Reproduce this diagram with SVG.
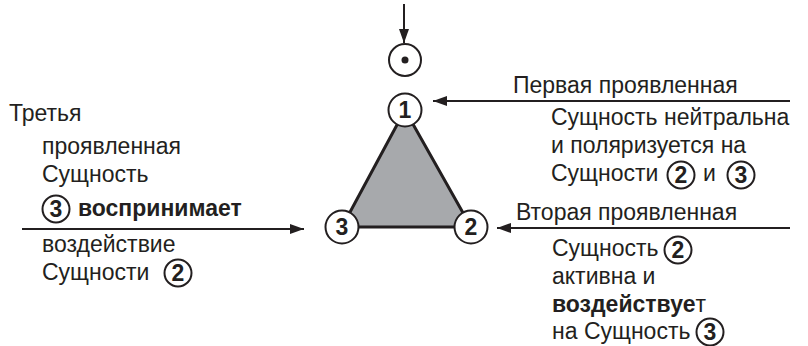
<svg xmlns="http://www.w3.org/2000/svg" width="808" height="346" viewBox="0 0 808 346">
<style>
.t{font-family:"Liberation Sans",Arial,sans-serif;font-size:23px;fill:#231f20}
.b{font-weight:bold}
.n{font-family:"Liberation Sans",Arial,sans-serif;font-weight:bold;font-size:23px;fill:#231f20;text-anchor:middle}
.c{fill:#fff;stroke:#231f20;stroke-width:2}
.ln{stroke:#231f20;stroke-width:2;fill:none}
</style>
<defs>
<marker id="ah" viewBox="0 0 14 10" refX="14" refY="5" markerWidth="14" markerHeight="10" markerUnits="userSpaceOnUse" orient="auto">
<path d="M0,0 L14,5 L0,10 Z" fill="#231f20"/>
</marker>
</defs>
<g id="connectors">
<line class="ln" x1="404" y1="4" x2="404" y2="43" marker-end="url(#ah)"/>
<line class="ln" x1="790" y1="101" x2="433" y2="101" marker-end="url(#ah)"/>
<line class="ln" x1="790" y1="228" x2="497" y2="228" marker-end="url(#ah)"/>
<line class="ln" x1="22" y1="229" x2="304" y2="229" marker-end="url(#ah)"/>
</g>
<g id="triangle">
<polygon points="405,110 471,227 342,227" fill="#a7a9ac" stroke="#231f20" stroke-width="3" stroke-linejoin="round"/>
</g>
<g id="node-source">
<circle cx="405" cy="60" r="16" class="c"/>
<circle cx="405" cy="60" r="3.5" fill="#231f20"/>
</g>
<g id="node-1">
<circle cx="405" cy="110" r="16.5" class="c"/>
<text x="405" y="118" class="n">1</text>
</g>
<g id="node-3">
<circle cx="342" cy="227" r="16.5" class="c"/>
<text x="342" y="235" class="n">3</text>
</g>
<g id="node-2">
<circle cx="471" cy="227" r="16.5" class="c"/>
<text x="471" y="235" class="n">2</text>
</g>
<g id="label-left">
<text class="t" x="9" y="121">Третья</text>
<text class="t" x="42" y="154">проявленная</text>
<text class="t" x="42" y="182">Сущность</text>
<circle cx="56" cy="209" r="13.5" class="c"/>
<text x="56" y="217" class="n">3</text>
<text class="t b" x="78" y="216">воспринимает</text>
<text class="t" x="42" y="252">воздействие</text>
<text class="t" x="42" y="280">Сущности</text>
<circle cx="178" cy="273" r="13.5" class="c"/>
<text x="178" y="281" class="n">2</text>
</g>
<g id="label-first">
<text class="t" x="513" y="93">Первая проявленная</text>
<text class="t" x="551" y="125">Сущность нейтральна</text>
<text class="t" x="551" y="153">и поляризуется на</text>
<text class="t" x="551" y="181">Сущности</text>
<circle cx="681" cy="175" r="13.5" class="c"/>
<text x="681" y="183" class="n">2</text>
<text class="t" x="703" y="181">и</text>
<circle cx="741" cy="175" r="13.5" class="c"/>
<text x="741" y="183" class="n">3</text>
</g>
<g id="label-second">
<text class="t" x="516" y="220">Вторая проявленная</text>
<text class="t" x="552" y="256">Сущность</text>
<circle cx="678" cy="250" r="13.5" class="c"/>
<text x="678" y="258" class="n">2</text>
<text class="t" x="552" y="284">активна и</text>
<text class="t" x="552" y="312"><tspan class="b">воздействуе</tspan>т</text>
<text class="t" x="552" y="339">на Сущность</text>
<circle cx="710" cy="332" r="13.5" class="c"/>
<text x="710" y="340" class="n">3</text>
</g>
</svg>
